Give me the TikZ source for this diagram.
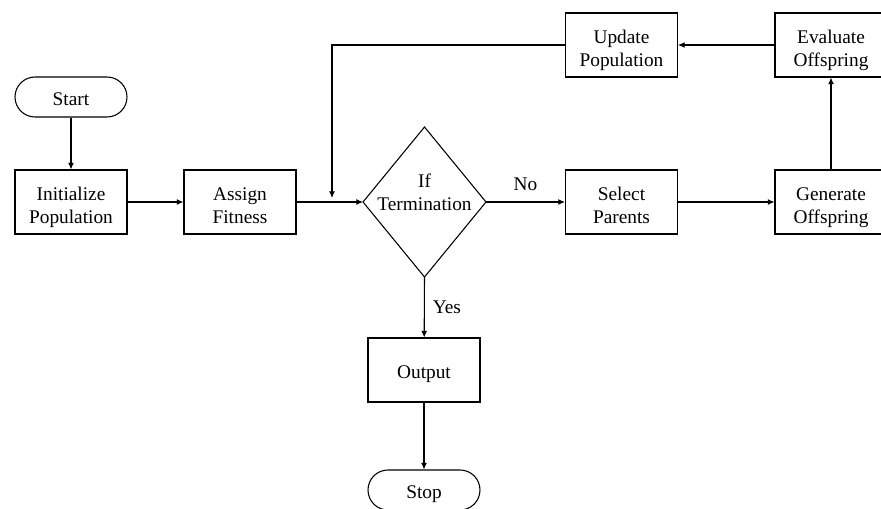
\documentclass[tikz,border=0pt]{standalone}
\usepackage{fontspec}
\setmainfont{Liberation Serif}
\usetikzlibrary{arrows.meta}
% fixed line heights, so that every label sits at the same place in its box
\newcommand\tpad{\rule{0pt}{19pt}}
\newcommand\bpad{\rule[-4pt]{0pt}{4pt}}
\newcommand\opad{\rule[-4pt]{0pt}{21pt}}
\begin{document}
\begin{tikzpicture}[x=0.75pt,y=-0.75pt,
  every node/.style={font=\fontsize{14.5}{16.8}\selectfont, align=center, inner sep=0pt},
  procbox/.style={draw, line width=0.8pt, minimum width=84pt, minimum height=48pt},
  termbox/.style={draw, line width=0.8pt, rounded corners=15pt, minimum width=84pt, minimum height=30pt},
  flow/.style={line width=0.8pt, -{Latex[length=5pt,width=4.5pt]}}]
\useasboundingbox (0,0) rectangle (881,509);

% process steps
\node[termbox] (start) at (71,97) {\opad Start};
\node[procbox] (init) at (71,202) {\tpad Initialize\\Population\bpad};
\node[procbox] (fit) at (240,202) {\tpad Assign\\Fitness\bpad};
\node[procbox] (sel) at (621.5,202) {\tpad Select\\Parents\bpad};
\node[procbox] (gen) at (831,202) {\tpad Generate\\Offspring\bpad};
\node[procbox] (eval) at (831,45) {\tpad Evaluate\\Offspring\bpad};
\node[procbox] (upd) at (621.5,45) {\tpad Update\\Population\bpad};
\node[procbox] (out) at (424,370) {\opad Output};
\node[termbox] (stop) at (424,490) {\opad Stop};

% decision diamond
\coordinate (dT) at (424.5,127);
\coordinate (dB) at (424.5,277);
\coordinate (dL) at (363,202);
\coordinate (dR) at (486,202);
\draw[line width=0.8pt] (dT) -- (dR) -- (dB) -- (dL) -- cycle;
\node (termtxt) at (424.5,189) {\tpad If\\Termination\bpad};

% connectors
\draw[flow] (start) -- (init);
\draw[flow] (init) -- (fit);
\draw[flow] (fit) -- (dL);
\draw[flow] (dR) -- node[above=8pt] (no) {No} (sel);
\draw[flow] (sel) -- (gen);
\draw[flow] (gen) -- (eval);
\draw[flow] (eval) -- (upd);
\coordinate (back) at (332,198);
\draw[flow] (upd.west) -| (back);
\draw[flow] (dB) -- node[right=6pt, pos=0.5] (yes) {Yes} (out);
\draw[flow] (out) -- (stop);
\end{tikzpicture}
\end{document}
